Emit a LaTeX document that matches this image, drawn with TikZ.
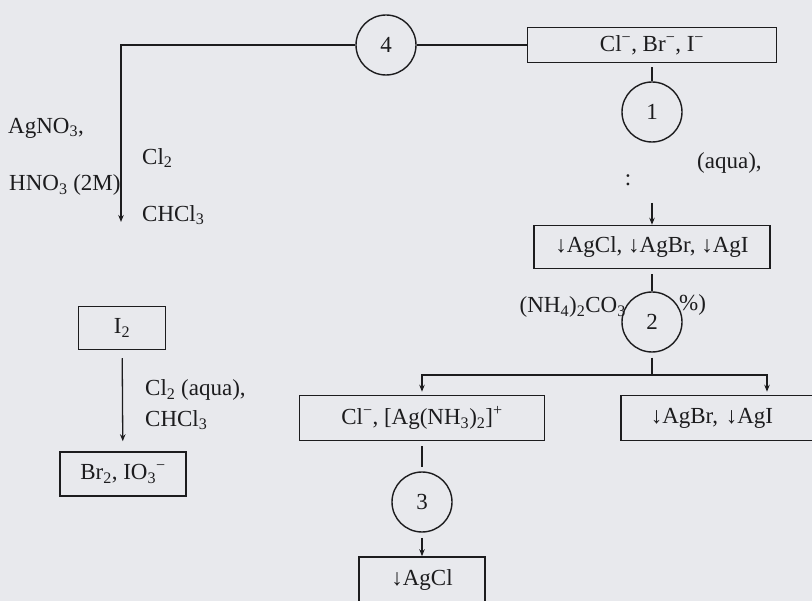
\documentclass[tikz,border=0pt]{standalone}
\usepackage{fontspec}
\setmainfont{Liberation Serif}
\usetikzlibrary{arrows.meta}
\definecolor{paper}{RGB}{232,233,237}
\definecolor{ink}{RGB}{28,28,30}
\begin{document}
\begin{tikzpicture}[x=1pt,y=-1pt,
  every node/.style={font=\fontsize{23}{27}\selectfont, text=ink},
  box/.style={draw=ink, line width=1.5pt, minimum height=44pt, inner sep=0pt},
  stage/.style={draw=ink, circle, line width=1.4pt, minimum size=60pt, inner sep=0pt},
  lbl/.style={inner sep=0pt, anchor=west},
  conn/.style={draw=ink, line width=1.3pt},
  arr/.style={conn, -{Stealth[length=7pt,width=5.5pt]}}]
\fill[paper] (0,0) rectangle (812,601);
\useasboundingbox (0,0) rectangle (812,601);

% boxes
\node[box, minimum width=249pt, minimum height=35pt] (top) at (652,45) {Cl\textsuperscript{−}, Br\textsuperscript{−}, I\textsuperscript{−}};
\node[box, minimum width=236pt, minimum height=43pt] (ppt1) at (652,247) {↓AgCl, ↓AgBr, ↓AgI};
\node[box, minimum width=245pt, minimum height=45pt] (clbox) at (422,418) {Cl\textsuperscript{−}, [Ag(NH\textsubscript{3})\textsubscript{2}]\textsuperscript{+}};
\node[box, anchor=west, inner xsep=30pt, text width=180pt, align=left, minimum height=45pt] (brbox) at (620,418) {↓AgBr, ↓AgI};
\node[box, minimum width=126pt, minimum height=46pt] (agcl) at (422,580) {↓AgCl};
\node[box, minimum width=87pt, minimum height=43pt] (i2) at (122,328) {I\textsubscript{2}};
\node[box, minimum width=126pt, minimum height=44pt] (br2) at (123,474) {Br\textsubscript{2}, IO\textsubscript{3}\textsuperscript{−}};

% stages
\node[stage] (c4) at (386,45) {4};
\node[stage] (c1) at (652,112) {1};
\node[stage] (c2) at (652,322) {2};
\node[stage] (c3) at (422,502) {3};

% labels
\node[lbl] (l1) at (8,128) {AgNO\textsubscript{3},};
\node[lbl] (l2) at (142,158) {Cl\textsubscript{2}};
\node[lbl] (l3) at (9,185) {HNO\textsubscript{3} (2M)};
\node[lbl] (l4) at (142,215) {CHCl\textsubscript{3}};
\node[lbl] (l5) at (697,163) {(aqua),};
\node (l6) at (628,180) {:};
\node[lbl, anchor=east] (l7) at (626,307) {(NH\textsubscript{4})\textsubscript{2}CO\textsubscript{3}};
\node[lbl] (l8) at (679,305) {\%)};
\node[lbl] (l9) at (145,390) {Cl\textsubscript{2} (aqua),};
\node[lbl] (l10) at (145,420) {CHCl\textsubscript{3}};

% connectors
\coordinate (lend) at (121,222);
\draw[conn] (top) -- (c4);
\draw[arr] (c4) -| (lend);
\draw[conn, shorten <=4pt] (top) -- (c1);
\coordinate (a1) at (652,203);
\draw[arr] (a1) -- (ppt1);
\draw[conn, shorten <=5pt] (ppt1) -- (c2);
\coordinate (split) at (652,375);
\draw[conn, shorten <=5pt] (c2) -- (split);
\coordinate (rj) at (767,375);
\draw[arr, shorten >=3pt] (split) -| (clbox);
\draw[arr, shorten >=3pt] (split) -- (rj) -- (rj |- brbox.north);
\draw[conn, shorten <=5pt, shorten >=4pt] (clbox) -- (c3);
\coordinate (a3) at (422,538);
\draw[arr] (a3) -- (agcl);
\draw[arr, shorten <=8pt, shorten >=10pt] (i2) -- (br2);
\end{tikzpicture}
\end{document}
